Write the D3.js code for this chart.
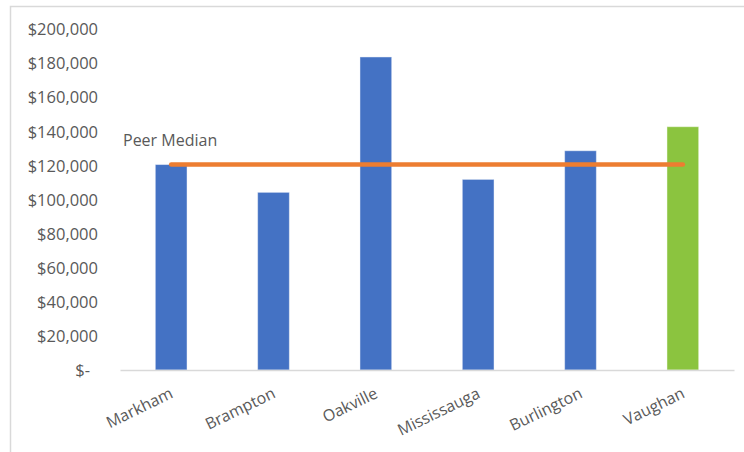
<!DOCTYPE html>
<html>
<head>
<meta charset="utf-8">
<script src="https://cdn.jsdelivr.net/npm/d3@7"></script>
<style>
  html, body { margin: 0; padding: 0; background: #fff; }
  svg { display: block; }
  text { font-family: "Open Sans", "Noto Sans", sans-serif; fill: #595959; }
</style>
</head>
<body>
<svg id="chart" width="744" height="452"></svg>
<script>
// Municipalities compared, and the value reported for each
const cities = ["Markham", "Brampton", "Oakville", "Mississauga", "Burlington", "Vaughan"];
const values = [120500, 104200, 183600, 111800, 128600, 142700];
const peerCities = ["Markham", "Brampton", "Oakville", "Mississauga", "Burlington"];
const focusCity = "Vaughan";
const yTicks = [0, 20000, 40000, 60000, 80000, 100000, 120000, 140000, 160000, 180000, 200000];
const medianLabel = "Peer Median";

const data = cities.map((c, i) => ({ city: c, value: values[i] }));
const peerMedian = d3.median(data.filter(d => peerCities.includes(d.city)), d => d.value);

const svg = d3.select("#chart");
const W = 744, H = 452;
const plot = { left: 120, right: 734, top: 29, bottom: 370 };

// chart frame
svg.append("rect")
  .attr("x", 10.5).attr("y", 6.5)
  .attr("width", W + 20).attr("height", H + 20)
  .attr("fill", "#fff").attr("stroke", "#d9d9d9").attr("stroke-width", 1.5);

const x = d3.scaleBand().domain(cities).range([plot.left, plot.right]).paddingInner(0.69).paddingOuter(0.345);
const y = d3.scaleLinear().domain([0, 200000]).range([plot.bottom, plot.top]);

// y axis labels (no line, no ticks)
const fmt = v => v === 0 ? "$-" : "$" + d3.format(",")(v);
const yAxis = svg.append("g")
  .attr("transform", `translate(${plot.left - 22},0)`)
  .call(d3.axisLeft(y).tickValues(yTicks).tickFormat(fmt).tickSize(0).tickPadding(0));
yAxis.select(".domain").remove();
yAxis.selectAll("text")
  .style("font-size", "16.5px").attr("fill", "#595959").attr("dy", "0.35em");
yAxis.selectAll("text").filter(d => d === 0).attr("dx", "-8px");

// bars
svg.append("g").selectAll("rect").data(data).join("rect")
  .attr("x", d => x(d.city))
  .attr("y", d => y(d.value))
  .attr("width", x.bandwidth())
  .attr("height", d => y(0) - y(d.value))
  .attr("fill", d => d.city === focusCity ? "#8bc43f" : "#4472c4")
  .attr("stroke", "#fff").attr("stroke-opacity", 0.45).attr("stroke-width", 1);

// category axis
const xAxis = svg.append("g")
  .attr("transform", `translate(0,${plot.bottom})`)
  .call(d3.axisBottom(x).tickSize(0).tickPadding(0));
xAxis.select(".domain").attr("stroke", "#d9d9d9").attr("stroke-width", 1.5);
xAxis.selectAll("text")
  .style("font-size", "16px").attr("fill", "#595959")
  .attr("text-anchor", "end")
  .attr("dy", 0)
  .attr("transform", "translate(3,27) rotate(-26)");

// peer median line across the categories
const cx = c => x(c) + x.bandwidth() / 2;
svg.append("line")
  .attr("x1", cx(cities[0])).attr("x2", cx(cities[cities.length - 1]))
  .attr("y1", y(peerMedian)).attr("y2", y(peerMedian))
  .attr("stroke", "#ed7d31").attr("stroke-width", 4.5).attr("stroke-linecap", "round");

svg.append("text")
  .attr("x", 123).attr("y", 146)
  .style("font-size", "16px")
  .text(medianLabel);
</script>
</body>
</html>
